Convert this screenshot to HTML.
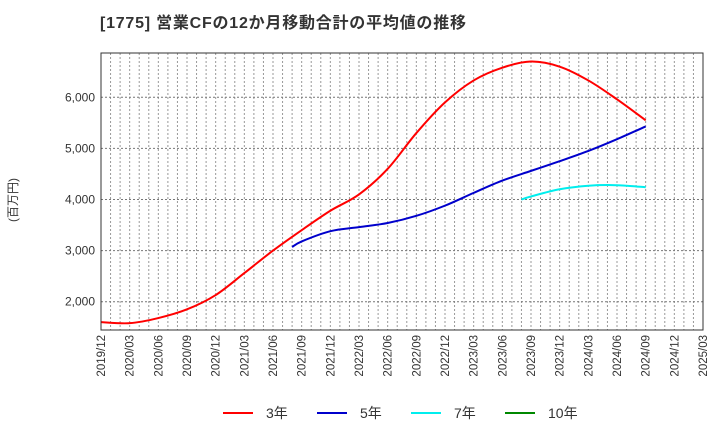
<!DOCTYPE html>
<html><head><meta charset="utf-8"><style>
body{margin:0;background:#fff;}
svg text{font-family:"Liberation Sans","Noto Sans CJK JP",sans-serif;}
</style></head><body>
<svg id="chart" width="720" height="440" xmlns="http://www.w3.org/2000/svg">
<text x="100" y="28" font-size="16" font-weight="bold" fill="#333" textLength="366" lengthAdjust="spacing">[1775]  営業CFの12か月移動合計の平均値の推移</text>
<text transform="translate(17,200) rotate(-90)" font-size="12" fill="#333" text-anchor="middle">(百万円)</text>
<g id="grid"></g>
<g id="series"></g>
<rect x="101" y="53" width="602" height="277" fill="none" stroke="#333" stroke-width="1"/>
<g id="axes"></g>
<g id="legend"></g>
</svg>
<script>
const xTickLabels=["2019/12","2020/03","2020/06","2020/09","2020/12","2021/03","2021/06","2021/09","2021/12","2022/03","2022/06","2022/09","2022/12","2023/03","2023/06","2023/09","2023/12","2024/03","2024/06","2024/09","2024/12","2025/03"];
const yTicks=[2000,3000,4000,5000,6000];
// months since 2019/12
const s3Months=[0,3,6,9,12,15,18,21,24,27,30,33,36,39,42,45,48,51,54,57];
const s3Values=[1600,1580,1680,1850,2130,2560,3000,3400,3780,4100,4600,5300,5900,6330,6580,6700,6600,6330,5960,5550];
const s5Months=[20,21,24,27,30,33,36,39,42,45,48,51,54,57];
const s5Values=[3070,3180,3380,3460,3540,3680,3880,4130,4370,4560,4750,4950,5180,5430];
const s7Months=[44,45,48,51,54,57];
const s7Values=[4000,4060,4200,4270,4280,4240];
const s10Months=[];
const s10Values=[];
const NS="http://www.w3.org/2000/svg";
const X0=101,X1=703,Y0=330,Y1=53;
const totalMonths=63;
const xs=m=>X0+(X1-X0)*m/totalMonths;
const ys=v=>97.3+(6000-v)*0.0511;
function mk(t,a,p){const e=document.createElementNS(NS,t);for(const k in a)e.setAttribute(k,a[k]);p.appendChild(e);return e;}
const grid=document.getElementById('grid'),axes=document.getElementById('axes'),ser=document.getElementById('series'),leg=document.getElementById('legend');
for(let m=1;m<totalMonths;m++){const l=mk('line',{x1:xs(m),x2:xs(m),y1:Y1,y2:Y0,stroke:'#999','stroke-dasharray':'2,2','stroke-width':1},grid);
}
yTicks.forEach(v=>{const l=mk('line',{x1:X0,x2:X1,y1:ys(v),y2:ys(v),stroke:'#777','stroke-dasharray':'2,2','stroke-width':1},grid);

const t=mk('text',{x:X0-6,y:ys(v)+4,'text-anchor':'end','font-size':12,fill:'#333'},axes);t.textContent=v.toLocaleString('en-US');
});
xTickLabels.forEach((s,i)=>{const x=xs(i*3);const t=mk('text',{transform:`translate(${x+4},335) rotate(-90)`,'text-anchor':'end','font-size':11.5,fill:'#333'},axes);t.textContent=s;
});
function path(ms,vs){if(!ms.length)return '';const p=ms.map((m,i)=>[xs(m),ys(vs[i])]);let d=`M${p[0][0]},${p[0][1]}`;
for(let i=0;i<p.length-1;i++){const a=p[i-1]||p[i],b=p[i],c=p[i+1],e=p[i+2]||c;
d+=` C${b[0]+(c[0]-a[0])/6},${b[1]+(c[1]-a[1])/6} ${c[0]-(e[0]-b[0])/6},${c[1]-(e[1]-b[1])/6} ${c[0]},${c[1]}`;}return d;}
const series=[["3年","#f00",s3Months,s3Values,"line-3y"],["5年","#00c",s5Months,s5Values,"line-5y"],["7年","#0ee",s7Months,s7Values,"line-7y"],["10年","#080",s10Months,s10Values,"line-10y"]];
series.forEach((s,i)=>{if(s[2].length){const p=mk('path',{d:path(s[2],s[3]),fill:'none',stroke:s[1],'stroke-width':2},ser);
}
const lx=223+i*94;const l=mk('line',{x1:lx,x2:lx+30,y1:413,y2:413,stroke:s[1],'stroke-width':2},leg);

const t=mk('text',{x:lx+43,y:418,'font-size':14,fill:'#333'},leg);t.textContent=s[0];
});
</script>
</body></html>
